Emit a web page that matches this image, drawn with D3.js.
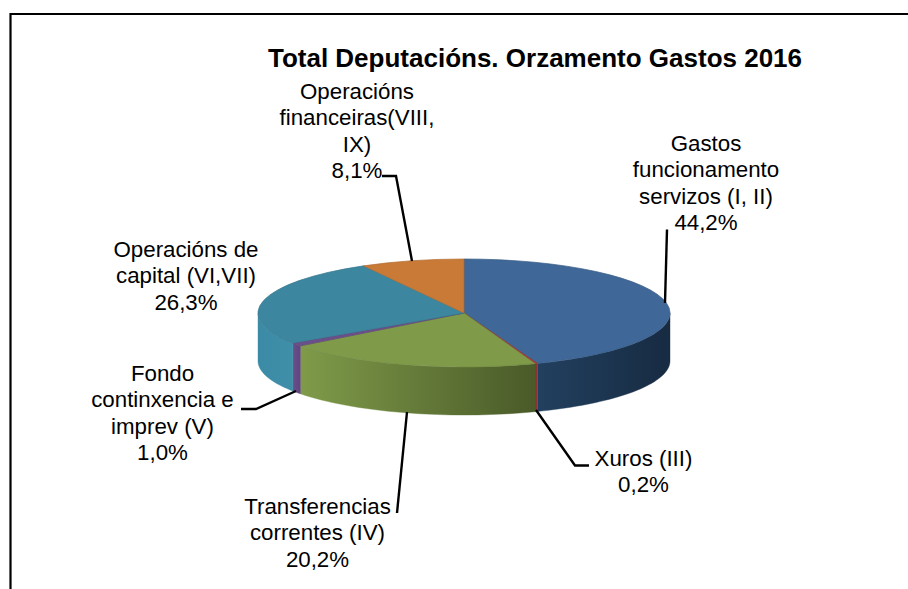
<!DOCTYPE html>
<html><head><meta charset="utf-8">
<script src="https://cdn.jsdelivr.net/npm/d3@7"></script>
<style>html,body{margin:0;padding:0;background:#fff}svg{display:block}text{font-family:"Liberation Sans",Arial,sans-serif}</style>
</head><body><svg id="c" width="908" height="589"></svg>
<script>
const titleText = "Total Deputacións. Orzamento Gastos 2016";
const categories = ["Gastos funcionamento servizos (I, II)","Xuros (III)","Transferencias correntes (IV)","Fondo continxencia e imprev (V)","Operacións de capital (VI,VII)","Operacións financeiras(VIII, IX)"];
const values = [44.2,0.2,20.2,1.0,26.3,8.1];
const labelLines = [
 ["Gastos","funcionamento","servizos (I, II)","44,2%"],
 ["Xuros (III)","0,2%"],
 ["Transferencias","correntes (IV)","20,2%"],
 ["Fondo","continxencia e","imprev (V)","1,0%"],
 ["Operacións de","capital (VI,VII)","26,3%"],
 ["Operacións","financeiras(VIII,","IX)","8,1%"]];
const topColors = ["#3f6797","#a83c38","#7f9b49","#6a4f8a","#3c879f","#c87a36"];
const sideStops = [["#22405f","#172b42"],["#8c3230","#8c3230"],["#7f9b49","#4a5a29"],["#6a4f8a","#5f4680"],["#3c8ba6","#3f8fa9"],["#c87a36","#c87a36"]];
const labelAnchors = [[706,151],[643.5,466],[317.5,514],[162.5,381],[186,257],[357,99]];
const leaders = [
 [[667,229.5],[665,303]],
 [[536,410],[575,465.5],[589,465.5]],
 [[407,412],[397,513]],
 [[241,409],[256,409],[296,391]],
 null,
 [[382,176],[396,176],[412,261]]];

const svg = d3.select("#c");
const cx=464, cy=313, rx=206, ry=54, depth=48;
const arcs = d3.pie().sort(null).value(d=>d)(values);
const px = a=>cx+rx*Math.sin(a), py=a=>cy-ry*Math.cos(a);
const defs = svg.append("defs");

svg.append("path").attr("d","M908,14H10.5V589").attr("fill","none").attr("stroke","#000").attr("stroke-width",2.2);

svg.append("text").attr("x",535).attr("y",67).attr("text-anchor","middle")
  .attr("font-size",26).attr("font-weight","bold").attr("fill","#000").text(titleText);

// side wall pieces: only the part of each slice on the visible (front) half
const g = svg.append("g");
const side = [];
arcs.forEach((d,i)=>{
  const s=Math.max(d.startAngle,Math.PI/2), e=Math.min(d.endAngle,Math.PI*1.5);
  if(e<=s) return;
  side.push({s,e,i});
});
side.forEach(o=>{
  const id="sg"+o.i;
  const x0=px(o.s), x1=px(o.e);
  const lg=defs.append("linearGradient").attr("id",id).attr("gradientUnits","userSpaceOnUse")
    .attr("x1",Math.min(x0,x1)).attr("x2",Math.max(x0,x1)+0.01).attr("y1",0).attr("y2",0);
  lg.append("stop").attr("offset",0).attr("stop-color",sideStops[o.i][0]);
  lg.append("stop").attr("offset",1).attr("stop-color",sideStops[o.i][1]);
  const n=40, top=[], bot=[];
  d3.range(n+1).forEach(k=>{
    const a=o.s+(o.e-o.s)*k/n;
    top.push([px(a),py(a)]); bot.unshift([px(a),py(a)+depth]);
  });
  g.append("path").attr("d",d3.line()(top.concat(bot))+"Z").attr("fill",`url(#${id})`)
   .attr("stroke",`url(#${id})`).attr("stroke-width",0.4);
});

// top faces via d3.arc, flattened into the ellipse
const arcGen=d3.arc().innerRadius(0).outerRadius(rx);
g.append("g").attr("transform",`translate(${cx},${cy}) scale(1,${ry/rx})`)
 .selectAll("path").data(arcs).join("path")
 .attr("d",arcGen).attr("fill",(d,i)=>topColors[i])
 .attr("stroke",(d,i)=>d3.color(topColors[i]).darker(0.35)).attr("stroke-width",0.7).attr("vector-effect","non-scaling-stroke");

// leader lines
const lg2=svg.append("g").attr("fill","none").attr("stroke","#000").attr("stroke-width",2.4);
leaders.filter(Boolean).forEach(p=>lg2.append("path").attr("d",d3.line()(p)));

// labels
const lab=svg.append("g").attr("text-anchor","middle").attr("font-size",22.3).attr("fill","#000");
labelLines.forEach((ls,i)=>{
  const t=lab.append("text").attr("x",labelAnchors[i][0]).attr("y",labelAnchors[i][1]);
  ls.forEach((s,k)=>t.append("tspan").attr("x",labelAnchors[i][0]).attr("dy",k?26.4:0).text(s));
});
</script></body></html>
